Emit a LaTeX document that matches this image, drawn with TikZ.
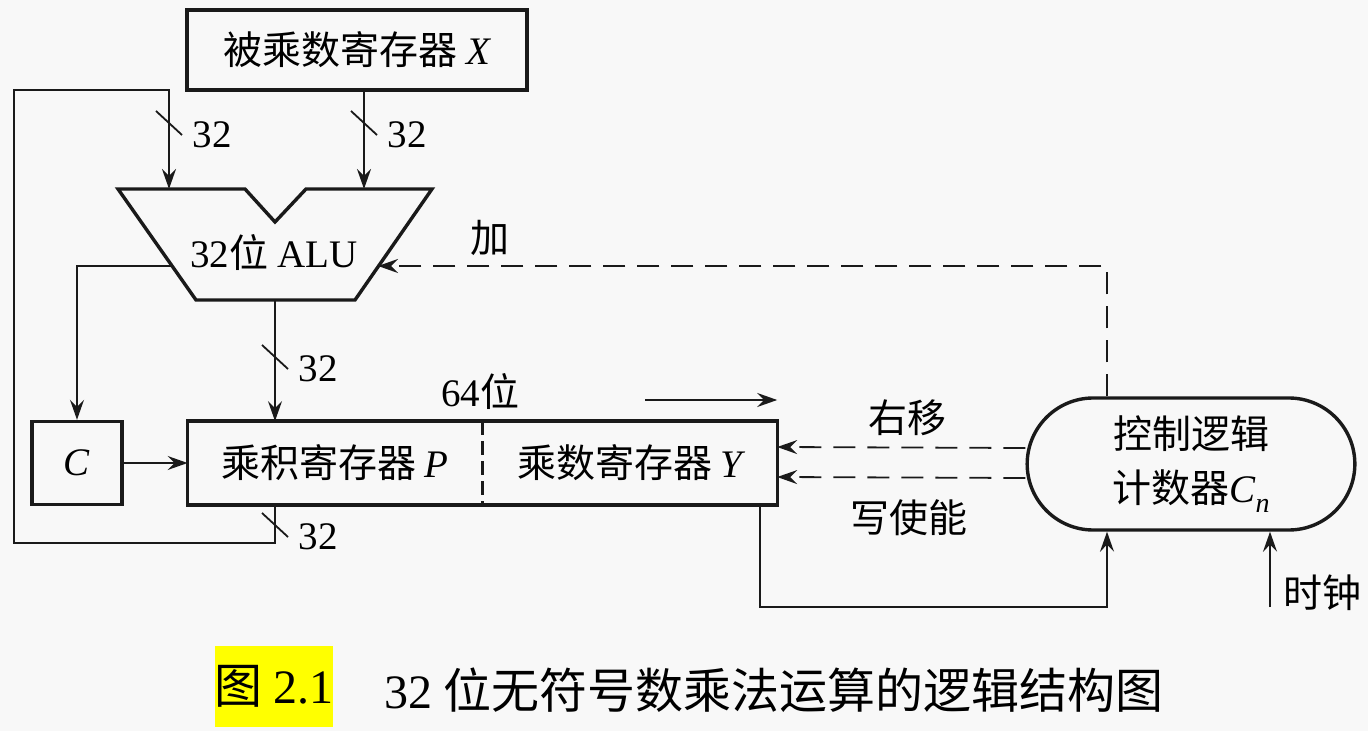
\documentclass[tikz,border=0pt]{standalone}
\usepackage{fontspec}
\setmainfont{Liberation Serif}
\newfontfamily\cjk{Noto Sans CJK SC}
\usetikzlibrary{arrows.meta, positioning, shapes.misc}
\definecolor{paper}{HTML}{F8F8F8}
\definecolor{ink}{HTML}{1A1A1A}
\definecolor{marker}{HTML}{FFFF00}
\newcommand{\vn}[1]{{\normalfont\itshape #1}}

\begin{document}
\begin{tikzpicture}[x=0.5pt, y=-0.5pt,
  reg/.style={draw=ink, line width=1.7pt, inner sep=0pt, minimum height=41.5pt,
              font=\cjk\fontsize{19.5}{22}\selectfont},
  half/.style={inner sep=0pt, minimum width=147pt, minimum height=41.5pt,
               font=\cjk\fontsize{19.5}{22}\selectfont},
  lbl/.style={font=\cjk\fontsize{19.5}{22}\selectfont, inner sep=1pt},
  num/.style={font=\fontsize{19.5}{22}\selectfont, inner sep=1pt},
  wire/.style={line width=0.9pt, draw=ink},
  arr/.style={-{Stealth[length=10pt, width=7pt, inset=3.5pt]}, line width=0.9pt, draw=ink},
  darr/.style={arr, dash pattern=on 11pt off 6pt},
  captext/.style={font=\cjk\fontsize{24}{28}\selectfont, inner sep=0pt}
]
\useasboundingbox (0,0) rectangle (1368,731);
\fill[paper] (0,0) rectangle (1368,731);

% registers
\node[reg, minimum width=170pt, minimum height=40pt] (regx) at (357,50) {被乘数寄存器 \vn{X}};
\node[reg, minimum width=45pt] (regc) at (77,463) {\vn{C}};
\node[half] (regp) at (335,463) {乘积寄存器 \vn{P}};
\node[half, right=0pt of regp] (regy) {乘数寄存器 \vn{Y}};
\draw[draw=ink, line width=1.7pt] (regp.north west) rectangle (regy.south east);
\draw[draw=ink, line width=1.1pt, dash pattern=on 7pt off 3pt] (regp.north east) -- (regp.south east);

% ALU
\draw[draw=ink, line width=1.7pt, line join=miter]
  (118,189) -- (245,189) -- (275,222) -- (306,189) -- (432,189) -- (355,300) -- (196,300) -- cycle;
\node[num] (alu) at (274,253) {32{\cjk 位} ALU};
\coordinate (alu-in1) at (169,189);
\coordinate (alu-in2) at (364,189);
\coordinate (alu-l) at (172,266);
\coordinate (alu-r) at (378,266);
\coordinate (alu-b) at (275,300);

% control
\node[draw=ink, line width=1.7pt, rounded rectangle, minimum width=170.5pt, minimum height=66pt,
      align=center, font=\cjk\fontsize{19.5}{27}\selectfont] (ctrl) at (1191,464)
  {控制逻辑\\计数器\vn{C}\raisebox{-0.45ex}{\fontsize{14}{14}\selectfont\vn{n}}};

\coordinate (fb-l) at (14,543);
\coordinate (fb-t) at (14,90);
\coordinate (ctl-x) at (1107,0);
\coordinate (y-out) at (760,0);
\coordinate (bot) at (0,607);
\coordinate (clk) at (1270,607);
\coordinate (sh) at (645,400);

% connectors
\draw[arr] (regx.south -| alu-in2) -- (alu-in2);
\draw[arr] (regp.south -| alu-b) |- (fb-l) -- (fb-t) -| (alu-in1);
\draw[arr] (alu-l) -| (regc.north);
\draw[arr] (alu-b) -- (alu-b |- regp.north);
\draw[arr] (regc) -- (regp);
\draw[darr] (ctrl.north -| ctl-x) |- (alu-r);
\draw[darr] ([yshift=8pt]ctrl.west) -- ([yshift=8pt]regy.east);
\draw[darr] ([yshift=-7pt]ctrl.west) -- ([yshift=-7pt]regy.east);
\draw[arr] (regy.south -| y-out) |- (bot -| ctl-x) -- (ctrl.south -| ctl-x);
\draw[arr] (clk) -- (clk |- ctrl.south);
\draw[arr] (sh) -- (sh -| regy.east);

% bus widths
\foreach \bx/\by [count=\i] in {169/123, 364/123, 275/357, 275/525}
  \draw[wire] (\bx-13,\by-12) -- (\bx+13,\by+12) node[num, anchor=west, xshift=4pt] (bus\i) {32};

% labels
\node[lbl] (add) at (490,238) {加};
\node[lbl] (shr) at (907,418) {右移};
\node[lbl] (wen) at (909,518) {写使能};
\node[lbl] (w64) at (480,392) {{\normalfont 64}位};
\node[lbl] (clkl) at (1322,593) {时钟};

% caption
\node[captext, fill=marker, minimum width=59pt, minimum height=40.5pt] (fig) at (274,686) {图 {\normalfont 2.1}};
\node[captext, anchor=west] (title) at (384,690) {{\normalfont 32} 位无符号数乘法运算的逻辑结构图};
\end{tikzpicture}
\end{document}
